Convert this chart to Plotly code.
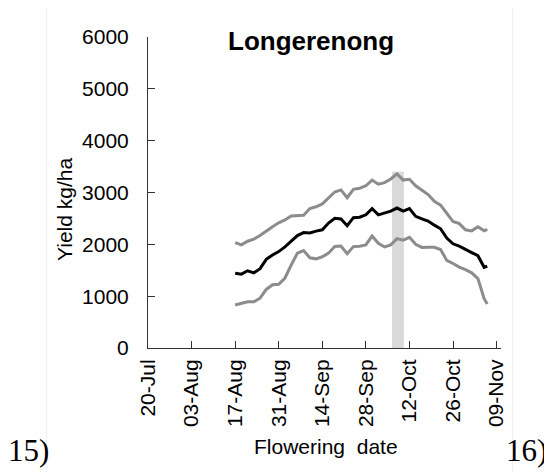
"""
Yield vs flowering date, Longerenong
"""

import pandas as pd
import plotly.graph_objects as go

# Flowering dates every 2 days from 17-Aug, plus the final day
flower_dates = list(pd.date_range("2013-08-17", "2013-11-05", freq="2D")) + [pd.Timestamp("2013-11-06")]

yield_upper = [2033, 1990, 2060, 2100, 2170, 2260, 2340, 2415, 2470, 2545, 2550, 2560, 2690, 2725,
               2780, 2900, 3010, 3050, 2900, 3060, 3080, 3130, 3240, 3160, 3190, 3260, 3360, 3240,
               3255, 3130, 3045, 2960, 2830, 2755, 2600, 2440, 2400, 2280, 2260, 2340, 2260, 2290]
yield_mean = [1441, 1425, 1490, 1450, 1530, 1710, 1795, 1860, 1950, 2060, 2170, 2226, 2220, 2255,
              2280, 2410, 2503, 2490, 2360, 2515, 2523, 2570, 2690, 2568, 2600, 2640, 2700, 2640,
              2690, 2540, 2490, 2450, 2370, 2300, 2120, 2010, 1965, 1910, 1840, 1780, 1557, 1580]
yield_lower = [830, 860, 890, 890, 960, 1130, 1220, 1230, 1350, 1600, 1830, 1879, 1740, 1720,
               1760, 1830, 1960, 1969, 1820, 1956, 1965, 1990, 2160, 2021, 1950, 1990, 2110, 2080,
               2136, 2000, 1940, 1945, 1943, 1900, 1690, 1630, 1560, 1510, 1450, 1340, 950, 849]

# Optimal flowering window (grey band)
band_start = "2013-10-06 10:00"
band_end = "2013-10-10 05:00"
band_top = 3400

tick_dates = list(pd.date_range("2013-07-20", "2013-11-09", freq="14D"))
y_ticks = [0, 1000, 2000, 3000, 4000, 5000, 6000]

FONT = "Arial, Liberation Sans, sans-serif"
SERIF = "Times New Roman, Liberation Serif, serif"
GREY = "#8c8c8c"

fig = go.Figure()

fig.add_shape(type="rect", xref="x", yref="y", x0=band_start, x1=band_end,
              y0=0, y1=band_top, fillcolor="#d9d9d9", line_width=0, layer="below")

for vals, color in [(yield_upper, GREY), (yield_lower, GREY), (yield_mean, "black")]:
    fig.add_trace(go.Scatter(x=flower_dates, y=vals, mode="lines",
                             line=dict(color=color, width=3), hoverinfo="skip"))

# page body has an 8px margin, so the figure is 8px smaller each way
fig.update_layout(
    width=544, height=466,
    margin=dict(l=140, r=51, t=29, b=126),
    paper_bgcolor="white", plot_bgcolor="white",
    showlegend=False,
    font=dict(family=FONT, size=21, color="black"),
    xaxis=dict(
        type="date", range=["2013-07-20", "2013-11-10 10:00"],
        tickvals=tick_dates, tickformat="%d-%b", tickangle=-90,
        ticks="inside", ticklen=7, tickcolor="#333", showgrid=False, zeroline=False,
        showline=True, linecolor="#333", linewidth=1, ticklabelstandoff=2,
    ),
    yaxis=dict(
        range=[0, 6000], tickvals=y_ticks,
        ticks="inside", ticklen=7, tickcolor="#333", showgrid=False, zeroline=False,
        showline=True, linecolor="#333", linewidth=1, ticklabelstandoff=14,
    ),
)

# Titles and panel labels
def label(text, x, y, size, family=FONT, angle=0):
    fig.add_annotation(text=text, x=x, y=y, xref="paper", yref="paper",
                       xanchor="center", yanchor="middle", textangle=angle,
                       showarrow=False, font=dict(family=family, size=size, color="black"))

label("<b>Longerenong</b>", 0.461, 0.987, 26)
label("Yield kg/ha", -0.235, 0.444, 21, angle=-90)
label("Flowering  date", 0.504, -0.318, 21)
label("15)", -0.338, -0.33, 31, family=SERIF)
label("16)", 1.071, -0.33, 31, family=SERIF)

# faint table borders
for xp in [-0.287, 1.033]:
    fig.add_shape(type="line", xref="paper", yref="paper", x0=xp, x1=xp, y0=-0.4, y1=1.1,
                  line=dict(color="#efefef", width=1))

fig.write_html("out.html")
